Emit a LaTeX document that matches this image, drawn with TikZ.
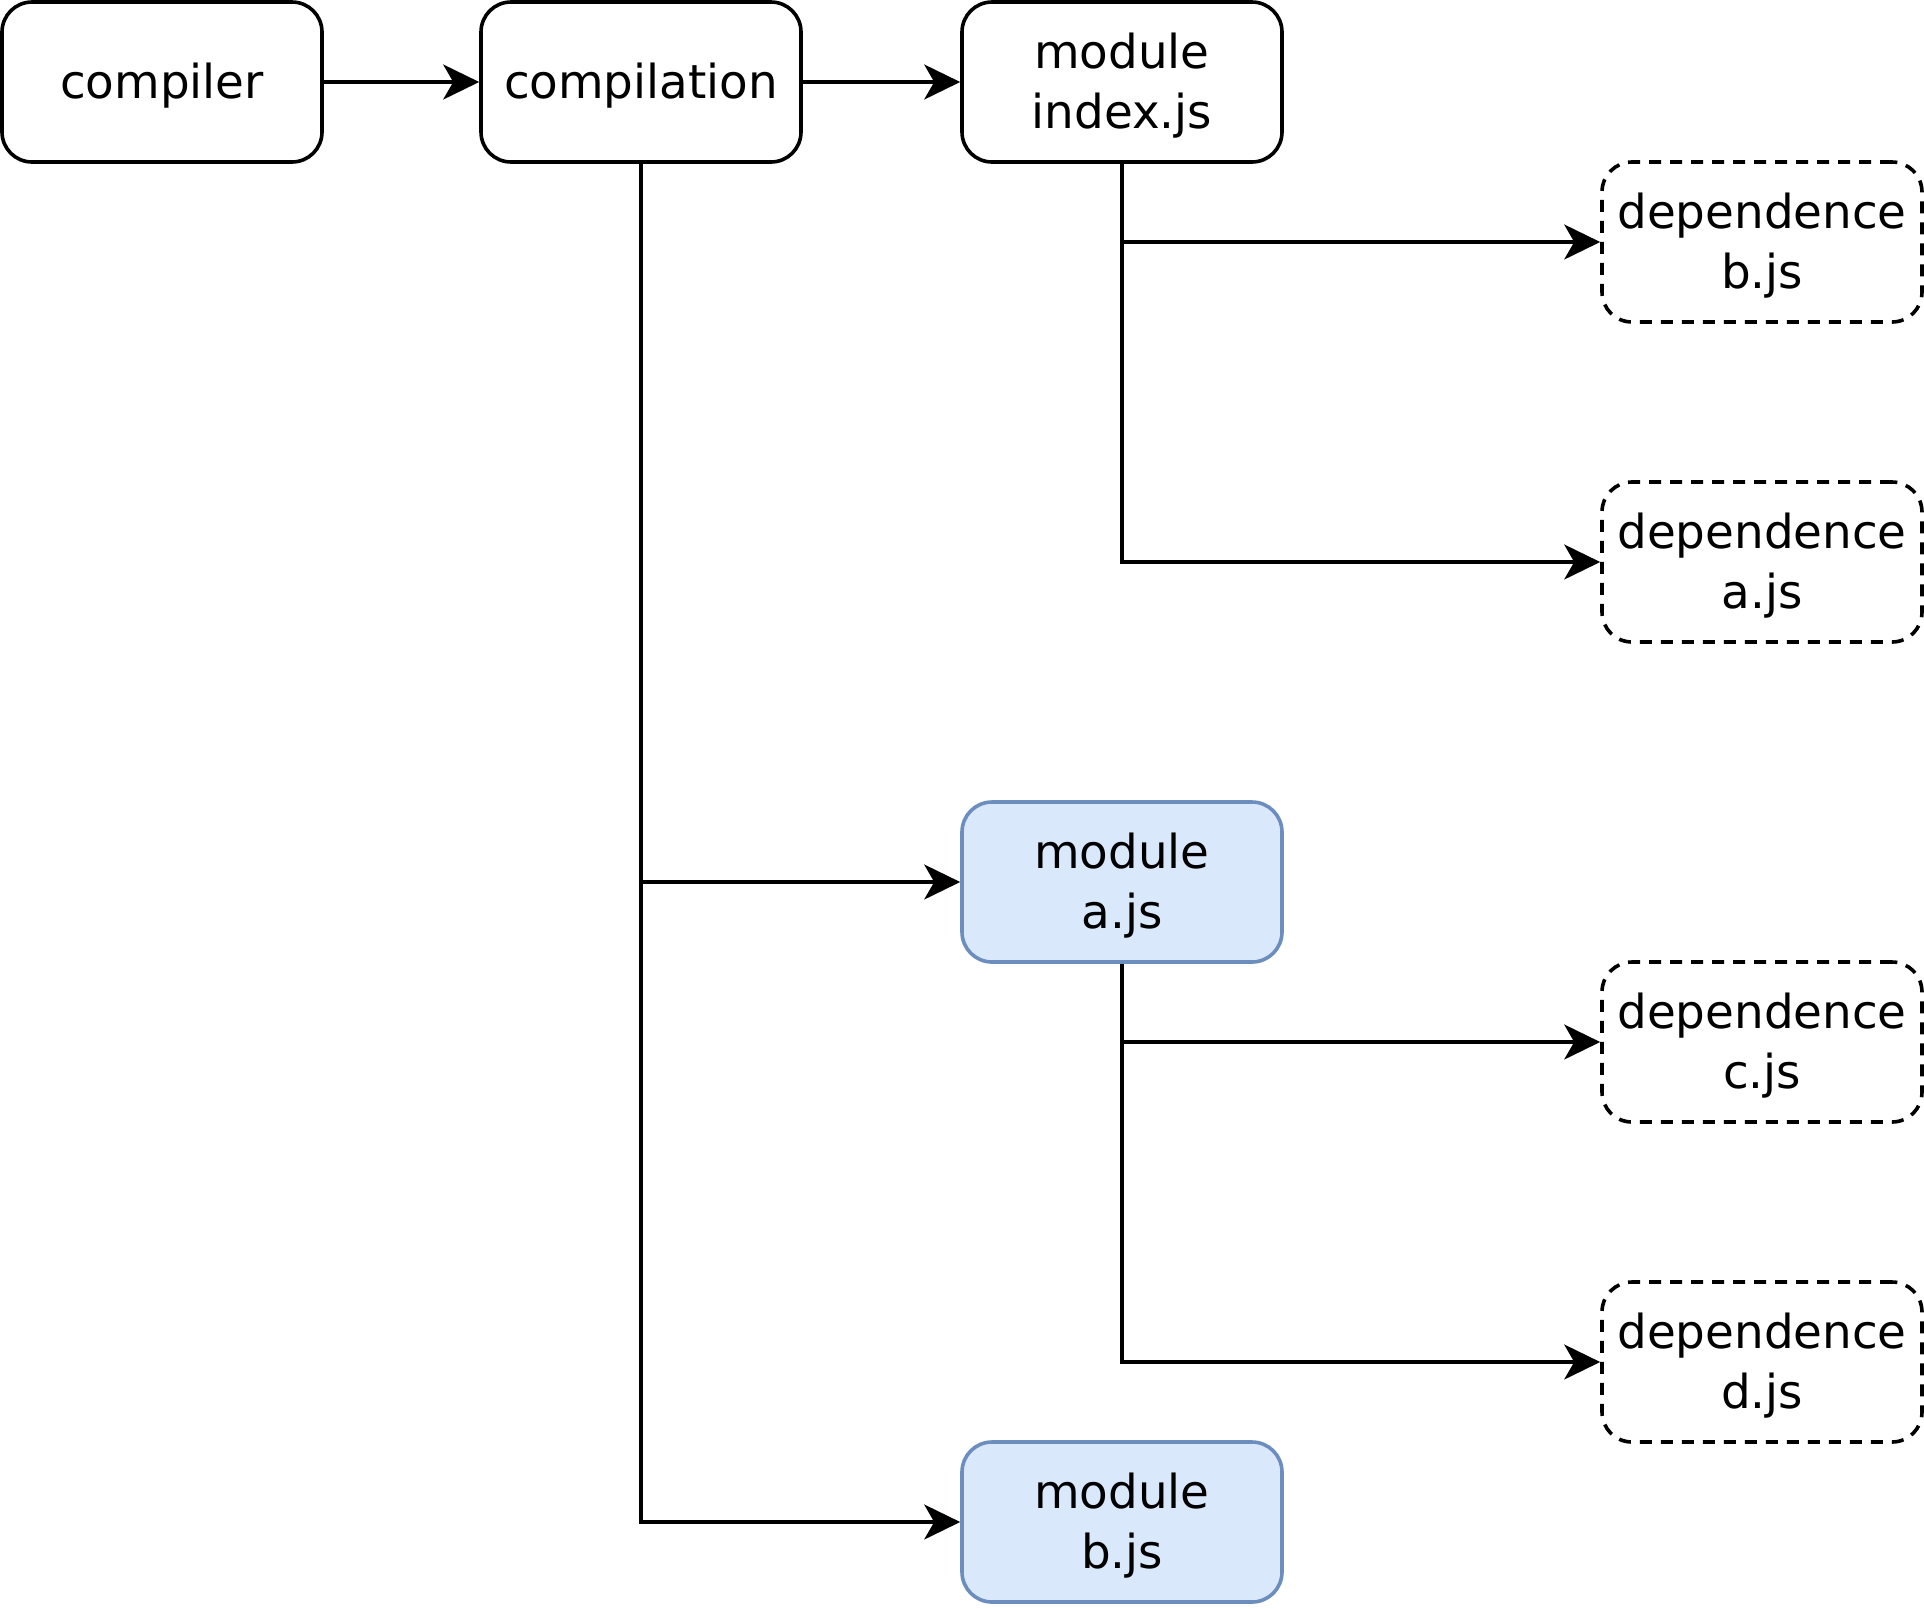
\documentclass[tikz,border=0pt]{standalone}
\usepackage{fontspec}
\setmainfont{DejaVu Sans}
\usetikzlibrary{arrows.meta}
\definecolor{modfill}{HTML}{DAE8FC}
\definecolor{moddraw}{HTML}{6C8EBF}
\newcommand\boxtxt[1]{\raisebox{-2pt}[\height][\depth]{\begin{tabular}{@{}c@{}}#1\end{tabular}}}
\begin{document}
\begin{tikzpicture}[x=0.5pt,y=-0.5pt,
  box/.style={draw=black, line width=1.8pt, rounded corners=15pt, minimum width=160pt, minimum height=80pt, inner sep=0pt, font=\fontsize{23.4pt}{30pt}\selectfont, fill=white},
  modbox/.style={box, draw=moddraw, fill=modfill},
  depbox/.style={box, dash pattern=on 6pt off 4.5pt},
  conn/.style={line width=1.6pt, -{Stealth[length=18pt,width=17.5pt,inset=5pt]}}]
\useasboundingbox (0,0) rectangle (1924,1608);
\node[box] (compiler) at (162,82) {\boxtxt{compiler}};
\node[box] (compilation) at (641,82) {\boxtxt{compilation}};
\node[box] (modidx) at (1122,82) {\boxtxt{module\\index.js}};
\node[depbox] (depb) at (1762,242) {\boxtxt{dependence\\b.js}};
\node[depbox] (depa) at (1762,562) {\boxtxt{dependence\\a.js}};
\node[modbox] (moda) at (1122,882) {\boxtxt{module\\a.js}};
\node[depbox] (depc) at (1762,1042) {\boxtxt{dependence\\c.js}};
\node[depbox] (depd) at (1762,1362) {\boxtxt{dependence\\d.js}};
\node[modbox] (modb) at (1122,1522) {\boxtxt{module\\b.js}};
\draw[conn] (compiler) -- (compilation);
\draw[conn] (compilation) -- (modidx);
\draw[conn] (compilation.south) |- (moda);
\draw[conn] (compilation.south) |- (modb);
\draw[conn] (modidx.south) |- (depb);
\draw[conn] (modidx.south) |- (depa);
\draw[conn] (moda.south) |- (depc);
\draw[conn] (moda.south) |- (depd);
\end{tikzpicture}
\end{document}
